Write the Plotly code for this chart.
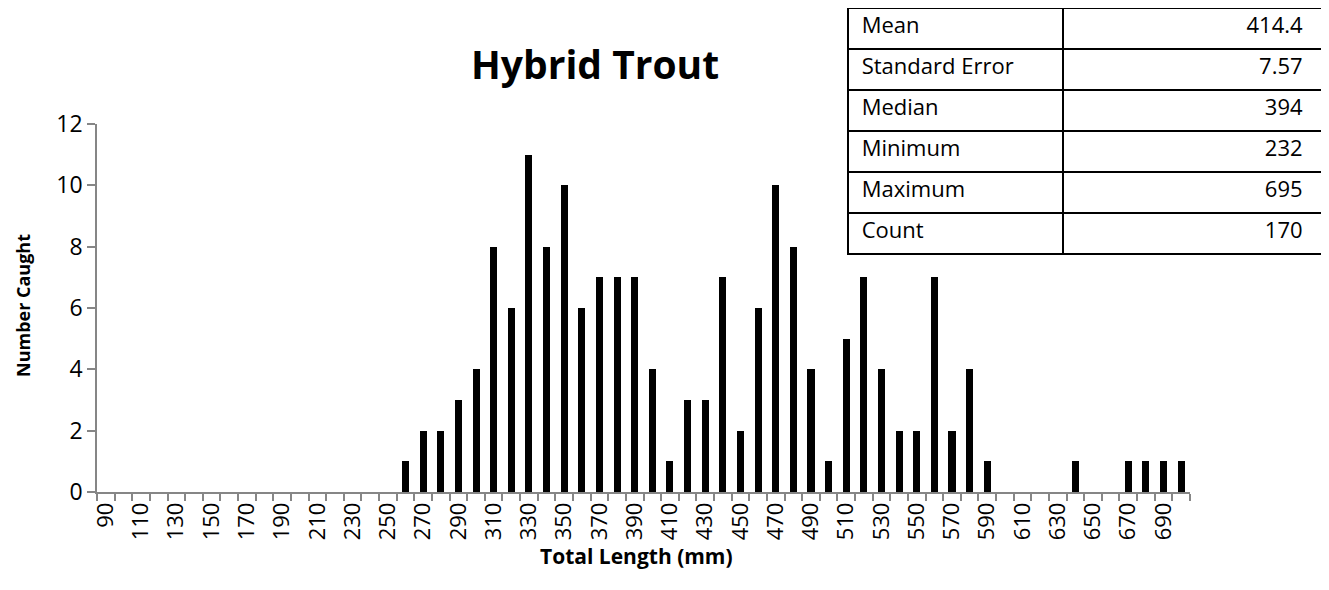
import plotly.graph_objects as go

lengths = list(range(90, 701, 10))
counts = [0]*17 + [1, 2, 2, 3, 4, 8, 6, 11, 8, 10, 6, 7, 7, 7, 4, 1, 3, 3, 7, 2,
                   6, 10, 8, 4, 1, 5, 7, 4, 2, 2, 7, 2, 4, 1, 0, 0, 0, 0, 1, 0,
                   0, 1, 1, 1, 1]
tick_labels = list(range(90, 691, 20))
stat_names = ["Mean", "Standard Error", "Median", "Minimum", "Maximum", "Count"]
stat_values = ["414.4", "7.57", "394", "232", "695", "170"]

OFF = 8  # page body margin
W, H = 1329 - OFF, 590 - OFF
FONT = "'Open Sans', sans-serif"
AXIS_GRAY = "#868686"


def px(x):
    return (x - OFF) / W


def py(y):
    return 1 - (y - OFF) / H


fig = go.Figure()
fig.add_trace(go.Bar(x=lengths, y=counts, width=4,
                     marker=dict(color="black", line=dict(width=0)), showlegend=False))

fig.add_trace(go.Table(
    domain=dict(x=[px(848), px(1323)], y=[py(255), py(8)]),
    columnwidth=[215, 260],
    header=dict(values=[" " + stat_names[0], stat_values[0] + "  "],
                align=["left", "right"], height=41,
                fill_color="white", line=dict(color="black", width=2),
                font=dict(family=FONT, size=22, color="black")),
    cells=dict(values=[[" " + s for s in stat_names[1:]], [v + "  " for v in stat_values[1:]]],
               align=["left", "right"], height=41,
               fill_color="white", line=dict(color="black", width=2),
               font=dict(family=FONT, size=22, color="black")),
))

fig.update_layout(
    template="none",
    width=W, height=H,
    margin=dict(l=0, r=0, t=0, b=0),
    paper_bgcolor="white", plot_bgcolor="white",
    font=dict(family=FONT, color="black"),
    bargap=0, showlegend=False,
    annotations=[
        dict(text="<b>Hybrid Trout</b>", x=px(595), y=py(63), xref="paper", yref="paper",
             xanchor="center", yanchor="middle", showarrow=False,
             font=dict(size=39, family=FONT, color="black")),
        dict(text="<b>Total Length (mm)</b>", x=px(636), y=py(556), xref="paper", yref="paper",
             xanchor="center", yanchor="middle", showarrow=False,
             font=dict(size=21, family=FONT, color="black")),
        dict(text="<b>Number Caught</b>", x=px(23), y=py(306), xref="paper", yref="paper",
             xanchor="center", yanchor="middle", showarrow=False, textangle=-90,
             font=dict(size=18, family=FONT, color="black")),
    ],
)
fig.update_xaxes(
    domain=[px(97), px(1190)], automargin=False,
    range=[85, 705], showgrid=False, zeroline=False,
    showline=True, linecolor=AXIS_GRAY, linewidth=1.5,
    tickmode="array", tickvals=tick_labels, ticktext=[str(t) for t in tick_labels],
    tickangle=-90, ticks="", tickfont=dict(size=22, family=FONT, color="black"),
    minor=dict(tickmode="linear", tick0=85, dtick=10, ticks="outside", ticklen=7,
               tickcolor=AXIS_GRAY, tickwidth=1.5, showgrid=False),
)
fig.update_yaxes(
    domain=[py(492), py(124)], automargin=False,
    range=[0, 12], dtick=2, showgrid=False, zeroline=False,
    showline=True, linecolor=AXIS_GRAY, linewidth=1.5,
    ticks="outside", ticklen=8, tickcolor=AXIS_GRAY, tickwidth=1.5,
    tickfont=dict(size=23, family=FONT, color="black"),
)

fig.write_html("out.html")
